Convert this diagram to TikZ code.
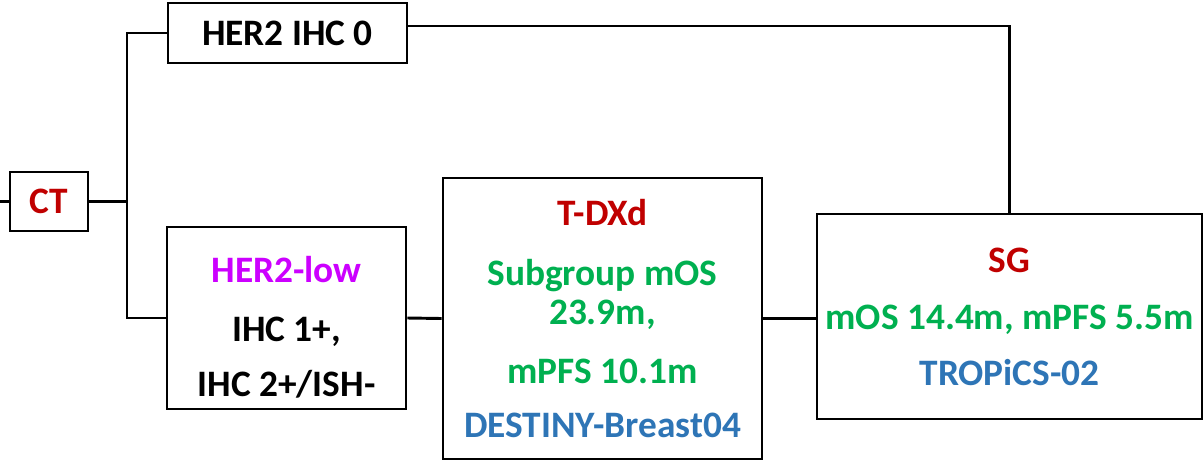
\documentclass[tikz,border=0pt]{standalone}
\usepackage{fontspec}
\setmainfont{Carlito}
\usetikzlibrary{positioning, calc}
\definecolor{ctred}{HTML}{C00000}
\definecolor{lowpink}{HTML}{CC00FF}
\definecolor{resgreen}{HTML}{00B050}
\definecolor{trialblue}{HTML}{2E75B6}

\begin{document}
\begin{tikzpicture}[
  x=0.75pt, y=-0.75pt,
  box/.style={draw, line width=2.2pt, align=center, inner sep=0pt,
    font=\fontsize{28}{28}\selectfont\bfseries},
  link/.style={draw, line width=2.2pt}
  ]
  \useasboundingbox (0,0) rectangle (1204,462);
  % boxes
  \node[box, minimum width=58.5pt, minimum height=44.25pt, text=ctred] (ct) at (49,201.5) {CT};
  \node[box, minimum width=179.25pt, minimum height=45pt] (ihc0) at (287.5,33) {HER2 IHC 0};
  \node[box, minimum width=179.25pt, minimum height=136.5pt] (low) at (286.5,318)
    {\rule{0pt}{33pt}\textcolor{lowpink}{HER2-low}\\[16.25pt]IHC 1+,\\[13.25pt]IHC 2+/ISH-};
  \node[box, minimum width=239.25pt, minimum height=210.75pt] (tdxd) at (602.5,318.5)
    {\textcolor{ctred}{T-DXd}\\[17pt]\textcolor{resgreen}{Subgroup mOS}\\[1.25pt]\textcolor{resgreen}{23.9m,}\\[16.25pt]\textcolor{resgreen}{mPFS 10.1m}\\[12.5pt]\textcolor{trialblue}{DESTINY-Breast04}};
  \node[box, minimum width=288.75pt, minimum height=153.75pt] (sg) at (1009.5,316.5)
    {\textcolor{ctred}{SG}\\[14.75pt]\textcolor{resgreen}{mOS 14.4m, mPFS 5.5m}\\[14pt]\textcolor{trialblue}{TROPiCS-02}};
  % connectors
  \coordinate (entry) at (0,201.5);
  \coordinate (split) at (127,201.5);
  \draw[link] (entry) -- (ct.west);
  \draw[link] (ct.east) -- (split);
  \draw[link] (ihc0.west) -| (split) |- (low.west);
  \draw[link] (low.east) -- (tdxd.west);
  \draw[link] (tdxd.east) -- (tdxd.east -| sg.west);
  \draw[link] ([yshift=5.25pt]ihc0.east) -| (sg.north);
\end{tikzpicture}
\end{document}
